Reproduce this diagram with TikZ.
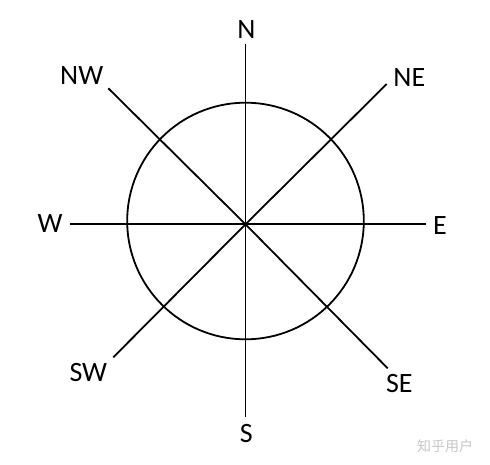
\documentclass[tikz,border=0pt]{standalone}
\usepackage{fontspec}
\setmainfont{Carlito}
\newfontfamily\cjkfont{Noto Sans CJK SC}
\usepackage{tikz}

\begin{document}
\begin{tikzpicture}[x=1pt,y=-1pt,
    ray/.style={line width=1.8pt,line cap=butt},
    dirlabel/.style={font=\fontsize{28}{32}\selectfont,inner sep=0pt}]
\useasboundingbox (0,0) rectangle (490,464);

% Centre and the outer ends of the eight rays
\coordinate (c) at (245.5,224.3);
\coordinate (n) at (245.5,44.3);
\coordinate (s) at (245.5,416.7);
\coordinate (w) at (70,224.3);
\coordinate (e) at (426,224.3);
\coordinate (nw) at (108.3,88.3);
\coordinate (ne) at (386.7,84);
\coordinate (sw) at (113.3,357.3);
\coordinate (se) at (387.7,368.3);

% Draw the circle
\draw[line width=1.8pt] (245.5,221) circle[radius=118.3];

% Draw the rays
\draw[ray] (c) -- (n);
\draw[ray] (c) -- (s);
\draw[ray] (c) -- (w);
\draw[ray] (c) -- (e);
\draw[ray] (c) -- (nw);
\draw[ray] (c) -- (ne);
\draw[ray] (c) -- (sw);
\draw[ray] (c) -- (se);

% Direction labels
\node[dirlabel] (labn) at (246.3,29.3) {N};
\node[dirlabel] (labne) at (409.3,77.3) {NE};
\node[dirlabel] (labe) at (440,225.7) {E};
\node[dirlabel] (labse) at (399.3,384) {SE};
\node[dirlabel] (labs) at (246.3,433.3) {S};
\node[dirlabel] (labsw) at (88.3,372.3) {SW};
\node[dirlabel] (labw) at (50,224) {W};
\node[dirlabel] (labnw) at (81.7,76) {NW};

% Watermark
\node[font=\cjkfont\fontsize{14}{16}\selectfont,text=black!22,inner sep=0pt] (mark) at (445,446) {知乎用户};

\end{tikzpicture}
\end{document}
